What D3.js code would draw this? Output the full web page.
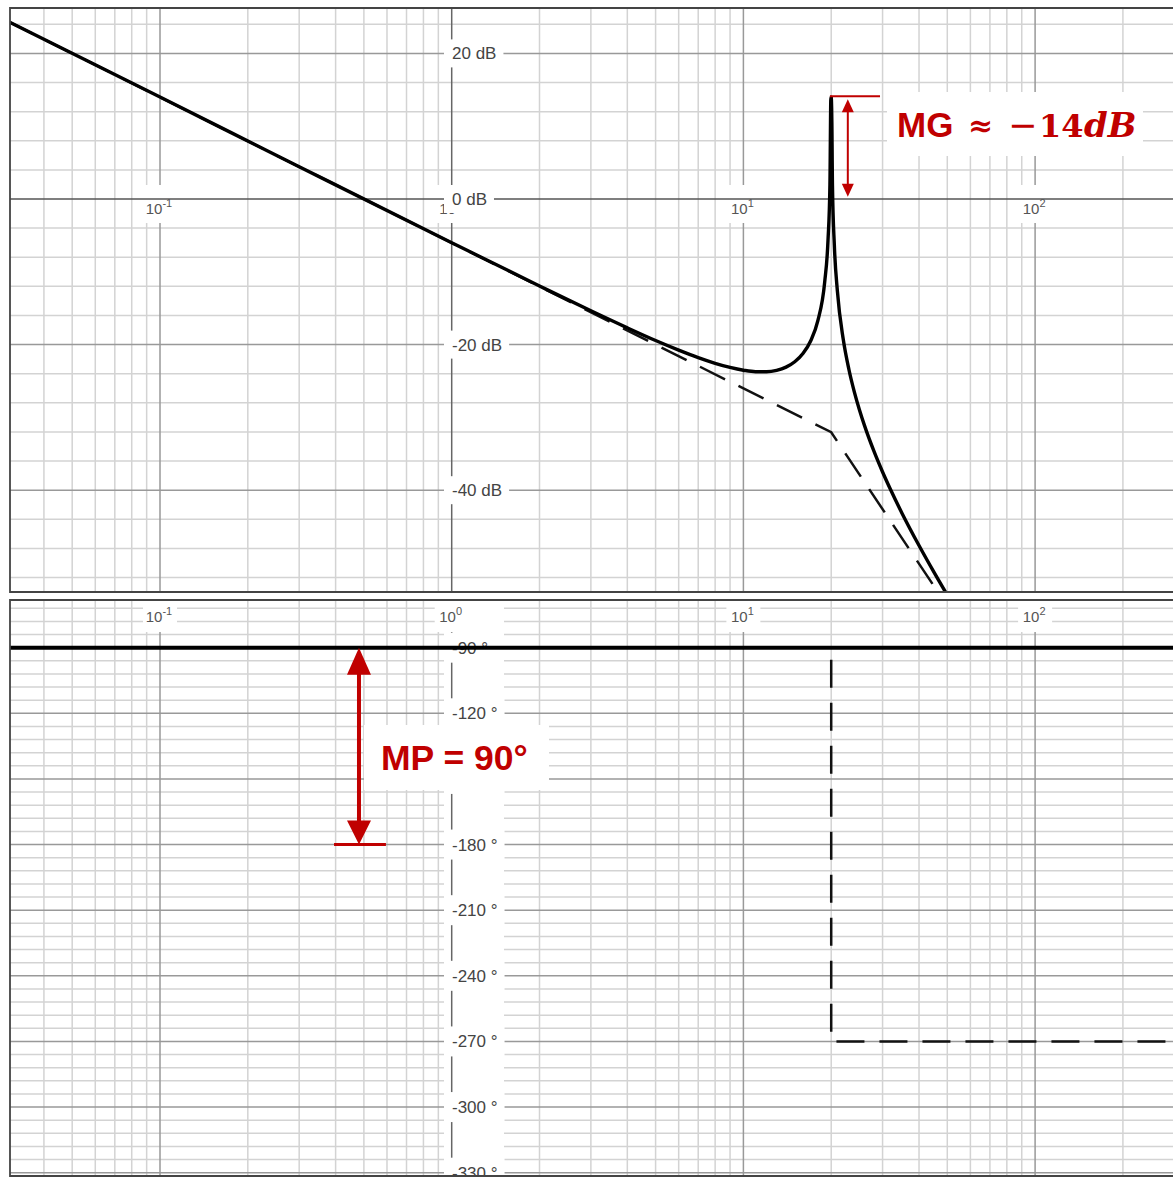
<!DOCTYPE html>
<html><head><meta charset="utf-8">
<script src="https://cdn.jsdelivr.net/npm/d3@7"></script>
<style>body{margin:0;background:#fff;} svg{display:block;}</style>
</head><body>
<svg id="chart" width="1173" height="1178"></svg>
<script>
// ---- data ----
const magFreq = [0.03, 0.1, 0.3, 1, 2, 3, 4, 5, 6, 7, 8, 9, 10, 11, 12, 13, 14, 15, 16, 17, 18, 19, 19.5, 19.8, 19.95, 20.05, 20.2, 20.5, 21, 22, 23, 24, 25, 26, 28, 30, 32, 35, 40, 45, 50, 55];
const magDb = [24.44, 14.0, 4.44, -6.0, -11.95, -15.36, -17.70, -19.44, -20.76, -21.79, -22.57, -23.14, -23.52, -23.72, -23.72, -23.53, -23.09, -22.36, -21.23, -19.50, -16.71, -11.38, -5.69, 2.07, 14.0, 13.95, 1.81, -6.34, -12.67, -19.31, -23.42, -26.49, -28.98, -31.10, -34.61, -37.50, -39.98, -43.19, -47.60, -51.26, -54.40, -57.17];
const magAsymFreq = [0.03, 20, 55];
const magAsymDb = [24.44, -32.04, -58.40];
const phaseFreq = [0.03, 300];
const phaseDeg = [-90, -90];
const phaseAsymFreq = [20, 20, 300];
const phaseAsymDeg = [-90, -270, -270];
const freqTicks = [0.1, 1, 10, 100];
const freqTickExp = ["-1", "0", "1", "2"];
const magTicks = [20, 0, -20, -40];
const magTickLabels = ["20 dB", "0 dB", "-20 dB", "-40 dB"];
const phaseTicks = [-90, -120, -150, -180, -210, -240, -270, -300, -330];
const phaseTickLabels = ["-90 °", "-120 °", "-150 °", "-180 °", "-210 °", "-240 °", "-270 °", "-300 °", "-330 °"];
const mgText = {sans: "MG", approx: "≈", minus: "−", num: "14", unit: "dB"};
const mpText = "MP = 90°";

// ---- layout ----
const W = 1173, H = 1178;
const L = 10, R = 1182;
const top1 = 8, bot1 = 592, top2 = 600, bot2 = 1176;
const svg = d3.select("#chart");
svg.append("rect").attr("width", W).attr("height", H).attr("fill", "#fff");

const x = d3.scaleLog().domain([1, 10]).range([451.7, 743.4]);
const yM = d3.scaleLinear().domain([0, -40]).range([199, 490.2]);
const yP = d3.scaleLinear().domain([-120, -330]).range([713.3, 1172.7]);

const defs = svg.append("defs");
defs.append("clipPath").attr("id", "c1").append("rect").attr("x", L).attr("y", top1).attr("width", R - L).attr("height", bot1 - top1);
defs.append("clipPath").attr("id", "c2").append("rect").attr("x", L).attr("y", top2).attr("width", R - L).attr("height", bot2 - top2);

const FONT = "'Liberation Sans', Arial, sans-serif";
const MINOR = "#d3d3d3", MAJOR = "#999", AXIS = "#666";

const vgrid = [];
for (let d = -2; d <= 2; d++) for (let k = 1; k <= 9; k++) {
  const w = k * Math.pow(10, d);
  const px = x(w);
  if (px > L && px < W + 5) vgrid.push({w, major: k === 1});
}

function panel(clipId, y0, y1, hLines) {
  const g = svg.append("g").attr("clip-path", `url(#${clipId})`);
  g.selectAll(null).data(vgrid.filter(d => !d.major)).join("line")
    .attr("x1", d => x(d.w)).attr("x2", d => x(d.w)).attr("y1", y0).attr("y2", y1)
    .attr("stroke", MINOR).attr("stroke-width", 1.5);
  g.selectAll(null).data(hLines.filter(d => !d.major)).join("line")
    .attr("x1", L).attr("x2", R).attr("y1", d => d.y).attr("y2", d => d.y)
    .attr("stroke", MINOR).attr("stroke-width", 1.5);
  return g;
}

// ---- magnitude panel ----
const magLines = [];
for (let v = -52; v <= 24; v += 4) magLines.push({y: yM(v), major: v % 20 === 0, v});
const g1 = panel("c1", top1, bot1, magLines);
g1.selectAll(null).data(magLines.filter(d => d.major && d.v !== 0)).join("line")
  .attr("x1", L).attr("x2", R).attr("y1", d => d.y).attr("y2", d => d.y)
  .attr("stroke", MAJOR).attr("stroke-width", 1.5);
g1.selectAll(null).data(vgrid.filter(d => d.major && d.w !== 1)).join("line")
  .attr("x1", d => x(d.w)).attr("x2", d => x(d.w)).attr("y1", top1).attr("y2", bot1)
  .attr("stroke", MAJOR).attr("stroke-width", 1.5);
g1.append("line").attr("x1", x(1)).attr("x2", x(1)).attr("y1", top1).attr("y2", bot1).attr("stroke", AXIS).attr("stroke-width", 1.5);

// ---- phase panel ----
const phLines = [];
for (let v = -330; v <= -66; v += 6) phLines.push({y: yP(v), major: v % 30 === 0, v});
const g2 = panel("c2", top2, bot2, phLines);
g2.append("rect").attr("x", 444).attr("y", top2).attr("width", 60).attr("height", bot2 - top2).attr("fill", "#fff");
g2.selectAll(null).data(phLines.filter(d => d.major)).join("line")
  .attr("x1", L).attr("x2", R).attr("y1", d => d.y).attr("y2", d => d.y)
  .attr("stroke", MAJOR).attr("stroke-width", 1.5);
g2.selectAll(null).data(vgrid.filter(d => d.major && d.w !== 1)).join("line")
  .attr("x1", d => x(d.w)).attr("x2", d => x(d.w)).attr("y1", top2).attr("y2", bot2)
  .attr("stroke", MAJOR).attr("stroke-width", 1.5);
g2.append("line").attr("x1", x(1)).attr("x2", x(1)).attr("y1", top2).attr("y2", bot2).attr("stroke", AXIS).attr("stroke-width", 1.5);

// ---- frequency labels ----
function freqLabels(g, baseY, boxY0, boxY1) {
  freqTicks.forEach((t, i) => {
    const cx = x(t);
    g.append("rect").attr("x", cx - 17).attr("y", boxY0).attr("width", 34).attr("height", boxY1 - boxY0).attr("fill", "#fff");
    const tx = g.append("text").attr("x", cx - 1).attr("y", baseY).attr("text-anchor", "middle")
      .attr("font-family", FONT).attr("font-size", 15).attr("fill", "#555");
    tx.append("tspan").text("10");
    tx.append("tspan").attr("dy", -7).attr("font-size", 11).text(freqTickExp[i]);
  });
}
freqLabels(g1, 214, 185, 223);
// 0 dB axis drawn over label boxes
g1.append("line").attr("x1", L).attr("x2", R).attr("y1", yM(0)).attr("y2", yM(0)).attr("stroke", "#555").attr("stroke-width", 1.6);
freqLabels(g2, 622, 600, 632);

// ---- value labels ----
function valueLabels(g, ticks, labels, yS, size, boxH) {
  ticks.forEach((t, i) => {
    const cy = yS(t);
    const tx = g.append("text").attr("x", 452).attr("y", cy).attr("dy", "0.35em")
      .attr("font-family", FONT).attr("font-size", size).attr("fill", "#444").text(labels[i]);
    const w = tx.node().getComputedTextLength();
    g.insert("rect", () => tx.node()).attr("x", 444).attr("y", cy - boxH / 2).attr("width", w + 15).attr("height", boxH).attr("fill", "#fff");
  });
}
valueLabels(g1, magTicks, magTickLabels, yM, 17, 28);
valueLabels(g2, phaseTicks, phaseTickLabels, yP, 17, 30);

// ---- curves ----
const lineM = d3.line().x(d => x(d[0])).y(d => yM(d[1])).curve(d3.curveMonotoneX);
const lineMlin = d3.line().x(d => x(d[0])).y(d => yM(d[1]));
const lineP = d3.line().x(d => x(d[0])).y(d => yP(d[1]));

g1.append("path").datum(d3.zip(magAsymFreq, magAsymDb)).attr("d", lineMlin)
  .attr("fill", "none").attr("stroke", "#111").attr("stroke-width", 2.5).attr("stroke-dasharray", "28,15");
g1.append("path").datum(d3.zip(magFreq, magDb)).attr("d", lineM)
  .attr("fill", "none").attr("stroke", "#000").attr("stroke-width", 3.4).attr("stroke-linejoin", "round");

g2.append("path").datum(d3.zip(phaseAsymFreq, phaseAsymDeg)).attr("d", lineP)
  .attr("fill", "none").attr("stroke", "#111").attr("stroke-width", 2.5)
  .attr("stroke-dasharray", "28,15").attr("stroke-dashoffset", 31);
g2.append("path").datum(d3.zip(phaseFreq, phaseDeg)).attr("d", lineP)
  .attr("fill", "none").attr("stroke", "#000").attr("stroke-width", 4);

// ---- panel borders ----
svg.append("path").attr("d", `M${R},${top1}H${L}V${bot1}H${R}`).attr("fill", "none").attr("stroke", "#444").attr("stroke-width", 1.8);
svg.append("path").attr("d", `M${R},${top2}H${L}V${bot2}H${R}`).attr("fill", "none").attr("stroke", "#444").attr("stroke-width", 1.8);

// ---- annotations ----
const RED = "#c00000";
const mgX = x(22.8), mgTopY = yM(14.1);
g1.append("rect").attr("x", 887).attr("y", 92).attr("width", 256).attr("height", 64).attr("fill", "#fff");
svg.append("line").attr("x1", x(19.8)).attr("x2", x(29.4)).attr("y1", mgTopY).attr("y2", mgTopY).attr("stroke", RED).attr("stroke-width", 2);
const a1 = yM(13.7), a2 = yM(0.3);
svg.append("line").attr("x1", mgX).attr("x2", mgX).attr("y1", a1 + 8).attr("y2", a2 - 8).attr("stroke", RED).attr("stroke-width", 2);
svg.append("path").attr("d", `M${mgX},${a1}L${mgX - 6},${a1 + 13}L${mgX + 6},${a1 + 13}Z`).attr("fill", RED);
svg.append("path").attr("d", `M${mgX},${a2}L${mgX - 6},${a2 - 13}L${mgX + 6},${a2 - 13}Z`).attr("fill", RED);
svg.append("text").attr("x", 897).attr("y", 137).attr("font-family", FONT).attr("font-weight", "bold").attr("font-size", 35).attr("fill", RED).text(mgText.sans);
svg.append("text").attr("x", 968).attr("y", 136).attr("font-family", "'DejaVu Serif', serif").attr("font-weight", "bold").attr("font-size", 30).attr("fill", RED).text(mgText.approx);
svg.append("text").attr("x", 1008).attr("y", 137).attr("font-family", "'DejaVu Serif', serif").attr("font-size", 35).attr("fill", RED).text(mgText.minus);
svg.append("text").attr("x", 1039).attr("y", 137).attr("font-family", "'DejaVu Serif', serif").attr("font-weight", "bold").attr("font-size", 32).attr("fill", RED).text(mgText.num);
svg.append("text").attr("x", 1084).attr("y", 137).attr("font-family", "'DejaVu Serif', serif").attr("font-weight", "bold").attr("font-style", "italic").attr("font-size", 34).attr("fill", RED).text(mgText.unit);

const mpX = x(0.481), p1 = yP(-90), p2 = yP(-180);
g2.append("rect").attr("x", 364).attr("y", 725).attr("width", 185).attr("height", 65).attr("fill", "#fff");
svg.append("line").attr("x1", x(0.395)).attr("x2", x(0.595)).attr("y1", p2).attr("y2", p2).attr("stroke", RED).attr("stroke-width", 3);
svg.append("line").attr("x1", mpX).attr("x2", mpX).attr("y1", p1 + 20).attr("y2", p2 - 20).attr("stroke", RED).attr("stroke-width", 4);
svg.append("path").attr("d", `M${mpX},${p1}L${mpX - 12},${p1 + 27}L${mpX + 12},${p1 + 27}Z`).attr("fill", RED);
svg.append("path").attr("d", `M${mpX},${p2}L${mpX - 12},${p2 - 24}L${mpX + 12},${p2 - 24}Z`).attr("fill", RED);
svg.append("text").attr("x", 381).attr("y", 770).attr("font-family", FONT).attr("font-weight", "bold").attr("font-size", 35.5).attr("fill", RED).text(mpText);
</script>
</body></html>
